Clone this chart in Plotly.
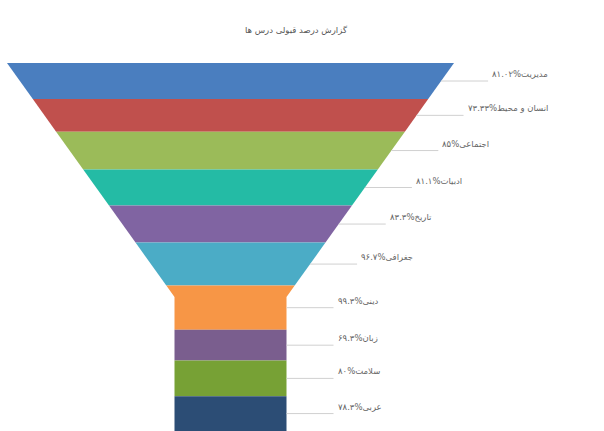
import plotly.graph_objects as go

# ---- data ----
title_text = "گزارش درصد قبولی درس ها"
subjects = ["مدیریت", "انسان و محیط", "اجتماعی", "ادبیات", "تاریخ",
            "جغرافی", "دینی", "زبان", "سلامت", "عربی"]
values = [81.02, 73.33, 85, 81.1, 83.3, 96.7, 99.3, 69.3, 80, 78.3]
colors = ["#4a7ebf", "#c0504d", "#9bbb59", "#24bba5", "#8064a2",
          "#4bacc6", "#f79646", "#7a5e8e", "#77a135", "#2c4d75"]

# ---- funnel geometry (style constants, in x pixel units) ----
CX = 230.5
TOP_HALF = 223.5
NECK_HALF = 56.0
NECK_F = 0.636      # fraction of height where neck starts
LABEL_GAP = 49

W, H = 604, 431
TOP_M = 63

total = sum(values)
neck_y = NECK_F * total


def half_width(y):
    if y >= neck_y:
        return NECK_HALF
    return TOP_HALF - (TOP_HALF - NECK_HALF) * y / neck_y


fa = str.maketrans("0123456789", "۰۱۲۳۴۵۶۷۸۹")


def fmt(v):
    s = ("%g" % v)
    return s.translate(fa)


fig = go.Figure()
cum = 0.0
annotations = []
for name, v, c in zip(subjects, values, colors):
    y0, y1 = cum, cum + v
    ys = [y0]
    if y0 < neck_y < y1:
        ys.append(neck_y)
    ys.append(y1)
    right = [(CX + half_width(y), y) for y in ys]
    left = [(CX - half_width(y), y) for y in reversed(ys)]
    pts = right + left + [right[0]]
    fig.add_trace(go.Scatter(
        x=[p[0] for p in pts], y=[p[1] for p in pts],
        fill="toself", fillcolor=c, mode="lines",
        line=dict(width=0, color=c), name=name,
        hoverinfo="text", text=f"{name}: {v}", showlegend=False))
    ym = (y0 + y1) / 2
    edge = CX + half_width(ym)
    lx = edge + LABEL_GAP
    fig.add_trace(go.Scatter(
        x=[edge, lx - 2], y=[ym, ym], mode="lines",
        line=dict(width=1, color="#d0d0d0"), hoverinfo="skip",
        showlegend=False))
    annotations.append(dict(
        x=lx, y=ym, xref="x", yref="y", xanchor="left", yanchor="bottom",
        text=f"{name}%{fmt(v)}", showarrow=False,
        font=dict(size=8.5, color="#666666", family="DejaVu Sans")))
    cum = y1

fig.update_layout(
    width=W, height=H,
    margin=dict(l=0, r=0, t=TOP_M, b=0),
    paper_bgcolor="white", plot_bgcolor="white",
    title=dict(text=title_text, x=0.49, xanchor="center",
               y=1 - 30 / H, yanchor="middle",
               font=dict(size=8.5, color="#555555", family="DejaVu Sans")),
    xaxis=dict(range=[0, W], visible=False, fixedrange=True),
    yaxis=dict(range=[total, 0], visible=False, fixedrange=True),
    annotations=annotations,
    showlegend=False,
)

fig.write_html("out.html")
